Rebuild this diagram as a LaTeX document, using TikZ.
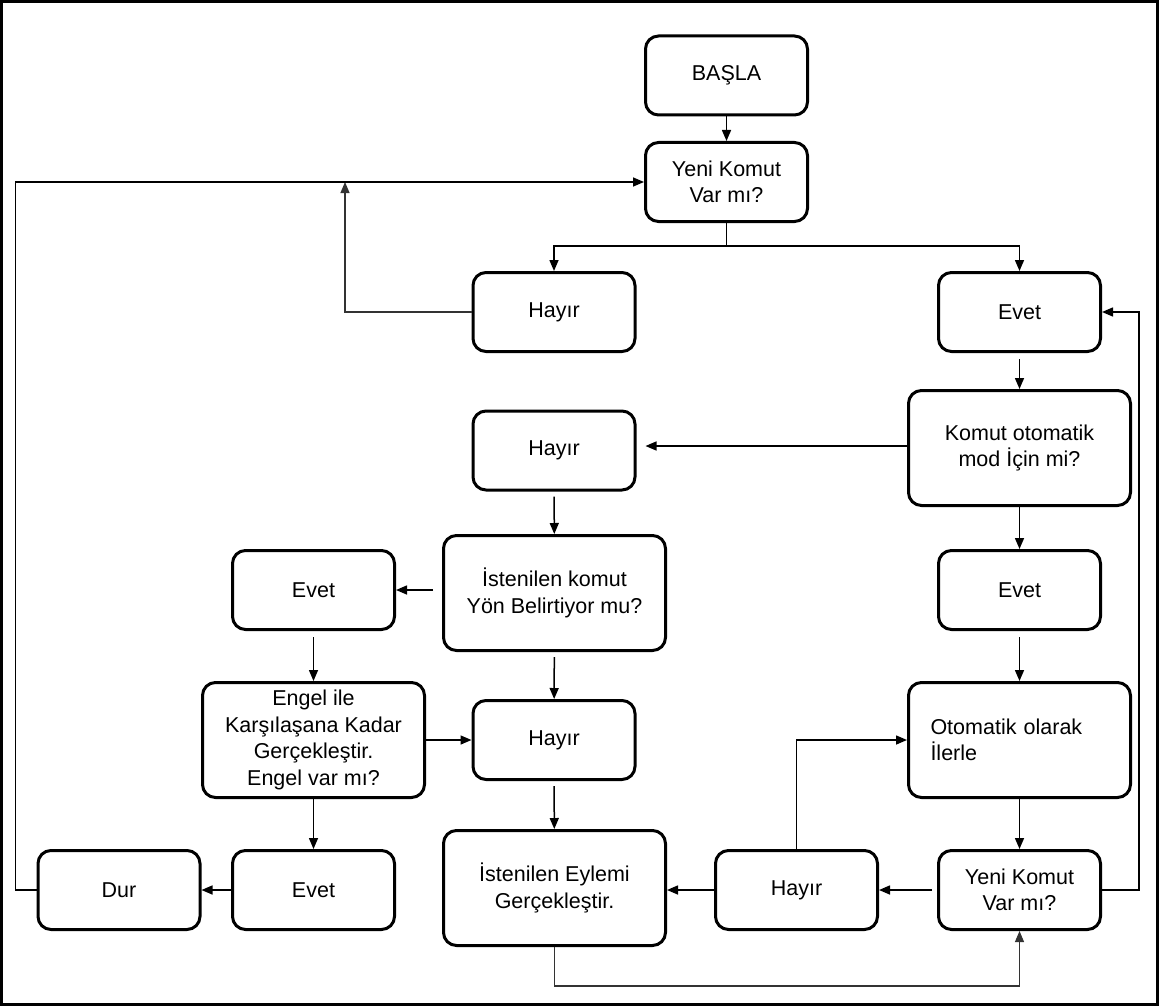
\documentclass[tikz,border=0pt]{standalone}
\usepackage{fontspec}
\setmainfont{Liberation Sans}
\usetikzlibrary{arrows.meta}
\begin{document}
\begin{tikzpicture}[x=1pt,y=-1pt,
  box/.style={draw, line width=3pt, rounded corners=13pt, align=center,
    font=\fontsize{21.5}{26.5}\selectfont, inner sep=0pt},
  sbox/.style={box, minimum width=162pt, minimum height=79pt},
  bbox/.style={box, minimum width=222pt, minimum height=115pt},
  arr/.style={line width=1.5pt, -{Triangle[length=11pt,width=9pt]}},
  tarr/.style={line width=1.1pt, black!80, -{Triangle[length=11pt,width=9pt]}},
  tln/.style={line width=1.1pt, black!80}]
\useasboundingbox (0,0) rectangle (1159,1006);
\draw[line width=3pt] (1.5,1.5) rectangle (1157.5,1004.5);

\node[sbox] (basla) at (726.5,75.5) {BAŞLA};
\node[sbox] (yeni1) at (726.5,182) {Yeni Komut\\Var mı?};
\node[sbox] (hayir1) at (554,312) {Hayır};
\node[sbox] (evet1) at (1019.5,312) {Evet};
\node[bbox] (komut) at (1019.5,448) {Komut otomatik\\mod İçin mi?};
\node[sbox] (hayir2) at (554,450.5) {Hayır};
\node[bbox] (istkomut) at (554.5,593) {İstenilen komut\\Yön Belirtiyor mu?};
\node[sbox] (evet2) at (313.5,590) {Evet};
\node[sbox] (evet3) at (1019.5,590) {Evet};
\node[bbox] (engel) at (313.5,740) {Engel ile\\Karşılaşana Kadar\\Gerçekleştir.\\Engel var mı?};
\node[sbox] (hayir3) at (554,740) {Hayır};
\node[box, minimum height=115pt, text width=178pt, inner xsep=22pt, align=left] (otomatik) at (1019.5,740) {Otomatik olarak\\İlerle};
\node[sbox] (dur) at (119,890) {Dur};
\node[sbox] (evet4) at (313.5,890) {Evet};
\node[bbox] (isteylem) at (554.5,888) {İstenilen Eylemi\\Gerçekleştir.};
\node[sbox] (hayir4) at (796.5,890) {Hayır};
\node[sbox] (yeni2) at (1019.5,890) {Yeni Komut\\Var mı?};

\coordinate (split) at (726.5,246);
\coordinate (hloop) at (345,182);

\draw[arr] (basla) -- (yeni1);
\draw[line width=1.5pt] (yeni1.south) -- (split);
\draw[arr] (split) -| (hayir1.north);
\draw[arr] (split) -| (evet1.north);
\draw[tarr] (hayir1.west) -| (hloop);
\draw[arr] (dur.west) -- ++(-21,0) |- (yeni1.west);
\draw[arr, shorten <=6pt] (evet1) -- (komut);
\draw[arr, shorten >=9pt] (komut.west |- 0,446) -- (hayir2.east |- 0,446);
\draw[arr] (komut) -- (evet3);
\draw[arr, shorten <=5pt] (hayir2) -- (istkomut);
\draw[arr, shorten <=9pt] (istkomut.west |- evet2.east) -- (evet2.east);
\draw[arr, shorten <=6pt] (evet2) -- (engel);
\draw[arr, shorten <=5pt] (istkomut) -- (hayir3);
\draw[arr] (engel.east) -- (hayir3.west);
\draw[arr, shorten <=5pt] (hayir3) -- (isteylem);
\draw[arr] (engel) -- (evet4);
\draw[arr] (evet4) -- (dur);
\draw[arr, shorten <=6pt] (evet3) -- (otomatik);
\draw[arr] (otomatik) -- (yeni2);
\draw[arr, shorten <=5pt] (yeni2.west) -- (hayir4.east);
\draw[arr] (hayir4.west) -- (isteylem.east |- hayir4.west);
\draw[arr] (hayir4.north) |- (otomatik.west);
\draw[arr] (yeni2.east) -- ++(37,0) |- (evet1.east);
\draw[tarr] (isteylem.south) -- ++(0,39) -| (yeni2.south);
\end{tikzpicture}
\end{document}
